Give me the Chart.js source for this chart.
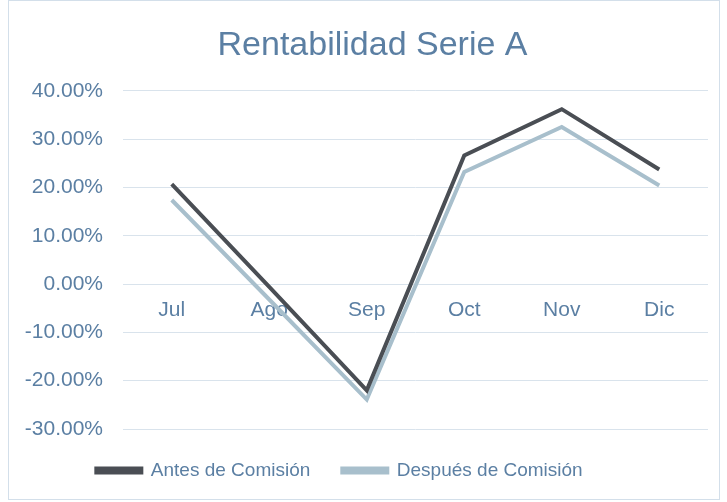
<!DOCTYPE html>
<html>
<head>
<meta charset="utf-8">
<script src="https://cdn.jsdelivr.net/npm/chart.js@4"></script>
<style>
  html, body { margin: 0; padding: 0; background: #fff; }
  #wrap { position: relative; width: 727px; height: 502px; }
  #frame { position: absolute; left: 8px; top: 0px; width: 712px; height: 500px; border: 1px solid #d3dfea; box-sizing: border-box; pointer-events: none; }
</style>
</head>
<body>
<div id="wrap">
  <canvas id="myChart" width="727" height="502"></canvas>
  <div id="frame"></div>
</div>
<script>
// months on the x axis
var months = ['Jul', 'Ago', 'Sep', 'Oct', 'Nov', 'Dic'];

// returns in percent
var antesComision = [20.7, -0.6, -22.0, 26.6, 36.2, 23.7];
var despuesComision = [17.4, -3.2, -23.9, 23.2, 32.5, 20.4];

var labelColor = '#5b7fa3';
var fontFamily = '"Liberation Sans", Arial, sans-serif';

// nudge title and legend sideways, like the original
var nudgeBoxes = {
    id: 'nudgeBoxes',
    afterLayout: function (chart) {
        chart.titleBlock.left += 7;
        chart.titleBlock.right += 7;
        chart.legend.left -= 26;
        chart.legend.right -= 26;
    }
};

var ctx = document.getElementById('myChart').getContext('2d');
var chart = new Chart(ctx, {
    type: 'line',
    data: {
        labels: months,
        datasets: [{
            label: 'Antes de Comisión',
            data: antesComision,
            borderColor: '#4a4e54',
            backgroundColor: '#4a4e54',
            borderWidth: 4,
            pointRadius: 0,
            tension: 0
        }, {
            label: 'Después de Comisión',
            data: despuesComision,
            borderColor: '#a8bfcc',
            backgroundColor: '#a8bfcc',
            borderWidth: 4,
            pointRadius: 0,
            tension: 0
        }]
    },
    plugins: [nudgeBoxes],
    options: {
        responsive: false,
        animation: false,
        layout: { padding: { left: 23, right: 19, top: 0, bottom: 12 } },
        plugins: {
            title: {
                display: true,
                text: 'Rentabilidad Serie A',
                color: labelColor,
                font: { family: fontFamily, size: 34, weight: 'normal' },
                padding: { top: 25, bottom: 25 }
            },
            legend: {
                position: 'bottom',
                labels: {
                    color: labelColor,
                    font: { family: fontFamily, size: 19 },
                    boxWidth: 45,
                    boxHeight: 4,
                    padding: 32
                }
            },
            tooltip: { enabled: false }
        },
        scales: {
            x: {
                position: { y: 0 },
                offset: true,
                grid: { display: false, drawTicks: false },
                border: { display: false },
                ticks: {
                    color: labelColor,
                    font: { family: fontFamily, size: 21 },
                    padding: 14
                }
            },
            y: {
                min: -30,
                max: 40,
                grid: { color: '#d9e3ec', drawTicks: false, lineWidth: 1 },
                border: { display: false },
                afterFit: function (scale) { scale.width = 100; },
                ticks: {
                    stepSize: 10,
                    color: labelColor,
                    padding: 20,
                    font: { family: fontFamily, size: 21 },
                    callback: function (v) { return v.toFixed(2) + '%'; }
                }
            }
        }
    }
});
</script>
</body>
</html>
